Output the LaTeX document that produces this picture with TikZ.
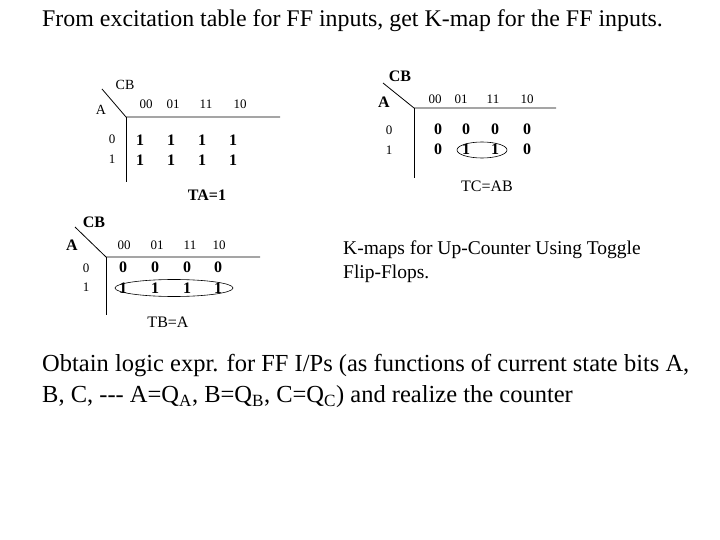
\documentclass[tikz,border=0pt]{standalone}
\usepackage{fontspec}
\setmainfont{Liberation Serif}
\usetikzlibrary{shapes.geometric}
\begin{document}
\begin{tikzpicture}[x=1pt,y=-1pt,
  lbl/.style={inner sep=0pt,font=\fontsize{13}{13}\selectfont},
  val/.style={inner sep=0pt,font=\fontsize{16}{16}\selectfont\bfseries},
  grp/.style={draw,ellipse,inner sep=0pt,line width=0.6pt},
  kline/.style={line width=0.8pt},
  para/.style={inner sep=0pt,anchor=west,align=left}]
\useasboundingbox (0,0) rectangle (720,540);
\fill[white] (0,0) rectangle (720,540);
% title
\node[para,font=\fontsize{23.9}{26}\selectfont] (title) at (42,21) {From excitation table for FF inputs, get K-map for the FF inputs.};

% ---------- K-map TA ----------
\node[lbl,font=\fontsize{14}{14}\selectfont] (cb1) at (125,85) {CB};
\node[lbl,font=\fontsize{14}{14}\selectfont] (a1) at (101,110) {A};
\coordinate (d1s) at (102,89);
\coordinate (c1) at (126,117);
\coordinate (h1e) at (280,117);
\coordinate (v1e) at (126,182);
\draw[kline] (d1s) -- (c1) -- (h1e);
\draw[kline] (c1) -- (v1e);
\foreach \t/\x [count=\i] in {00/146,01/173,11/206,10/240}
  \node[lbl] (h1\i) at (\x,104) {\t};
\node[lbl] (r10) at (112,139) {0};
\node[lbl] (r11) at (112,159) {1};
\foreach \x [count=\i] in {140,171,202,233}{
  \node[val] (m1a\i) at (\x,140) {1};
  \node[val] (m1b\i) at (\x,160) {1};}
\node[val] (ta) at (207,195) {TA=1};

% ---------- K-map TC ----------
\node[lbl,font=\fontsize{16}{16}\selectfont\bfseries] (cb2) at (400,76) {CB};
\node[lbl,font=\fontsize{16}{16}\selectfont\bfseries] (a2) at (384,102) {A};
\coordinate (d2s) at (383,83);
\coordinate (c2) at (414,108);
\coordinate (h2e) at (556,108);
\coordinate (v2e) at (414,178);
\draw[kline] (d2s) -- (c2) -- (h2e);
\draw[kline] (c2) -- (v2e);
\foreach \t/\x [count=\i] in {00/435,01/461,11/493,10/527}
  \node[lbl] (h2\i) at (\x,99) {\t};
\node[lbl] (r20) at (389,130) {0};
\node[lbl] (r21) at (389,150) {1};
\foreach \x/\u/\v [count=\i] in {438/0/0,466/0/1,495/0/1,527/0/0}{
  \node[val] (m2a\i) at (\x,129) {\u};
  \node[val] (m2b\i) at (\x,149) {\v};}
\node[grp,minimum width=50,minimum height=16] (e2) at (482,150) {};
\node[lbl,font=\fontsize{16}{16}\selectfont] (tc) at (487,186) {TC=AB};

% ---------- K-map TB ----------
\node[lbl,font=\fontsize{16}{16}\selectfont\bfseries] (cb3) at (94,222) {CB};
\node[lbl,font=\fontsize{16}{16}\selectfont\bfseries] (a3) at (72,245) {A};
\coordinate (d3s) at (75,227);
\coordinate (c3) at (106,257);
\coordinate (h3e) at (260,257);
\coordinate (v3e) at (106,315);
\draw[kline] (d3s) -- (c3) -- (h3e);
\draw[kline] (c3) -- (v3e);
\foreach \t/\x [count=\i] in {00/124,01/157,11/190,10/219}
  \node[lbl] (h3\i) at (\x,245) {\t};
\node[lbl] (r30) at (86,268) {0};
\node[lbl] (r31) at (86,287) {1};
\foreach \x/\u/\v [count=\i] in {123/0/1,155/0/1,187/0/1,218/0/1}{
  \node[val] (m3a\i) at (\x,267) {\u};
  \node[val] (m3b\i) at (\x,288) {\v};}
\node[grp,minimum width=118,minimum height=17] (e3) at (174,288) {};
\node[lbl,font=\fontsize{16}{16}\selectfont] (tb) at (168,322) {TB=A};

% caption
\node[para,font=\fontsize{19.5}{24}\selectfont] (cap) at (343,262) {K-maps for Up-Counter Using Toggle\\Flip-Flops.};

% bottom text
\node[para,font=\fontsize{24.5}{31}\selectfont] (bottom) at (42,381) {Obtain logic expr. for FF I/Ps (as functions of current state bits A,\\B, C, -{}-{}- A=Q\textsubscript{A}, B=Q\textsubscript{B}, C=Q\textsubscript{C}) and realize the counter};
\end{tikzpicture}
\end{document}
